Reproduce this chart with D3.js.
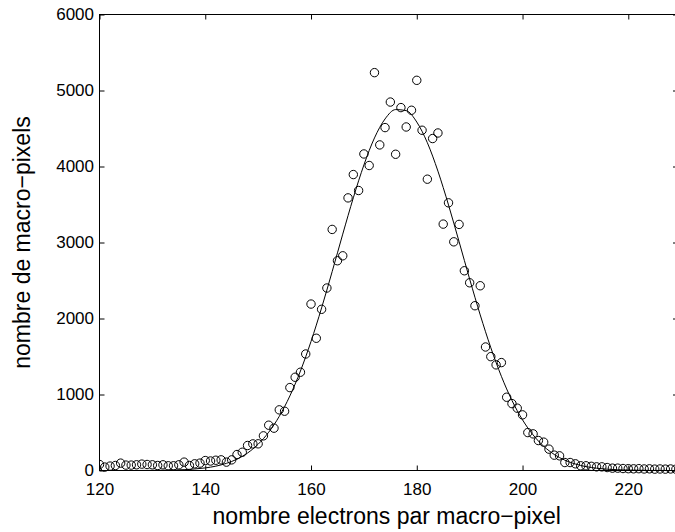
<!DOCTYPE html>
<html>
<head>
<meta charset="utf-8">
<script src="https://cdn.jsdelivr.net/npm/d3@7"></script>
<style>
  body { margin: 0; background: #fff; }
  svg { display: block; }
  text { font-family: "Liberation Sans", Arial, Helvetica, sans-serif; fill: #000; }
</style>
</head>
<body>
<svg id="chart" width="675" height="532"></svg>
<script>
// Measured histogram: number of macro-pixels per electron count
const electrons = [
  120,121,122,123,124,125,126,127,128,129,
  130,131,132,133,134,135,136,137,138,139,
  140,141,142,143,144,145,146,147,148,149,
  150,151,152,153,154,155,156,157,158,159,
  160,161,162,163,164,165,166,167,168,169,
  170,171,172,173,174,175,176,177,178,179,
  180,181,182,183,184,185,186,187,188,189,
  190,191,192,193,194,195,196,197,198,199,
  200,201,202,203,204,205,206,207,208,209,
  210,211,212,213,214,215,216,217,218,219,
  220,221,222,223,224,225,226,227,228,229
];
const counts = [
  79,45,58,66,97,71,71,75,84,79,
  75,66,75,62,62,75,110,66,88,97,
  131,125,135,140,110,140,210,240,329,350,
  351,456,596,557,798,780,1091,1227,1293,1533,
  2190,1740,2121,2401,3172,2760,2825,3587,3894,3684,
  4165,4013,5235,4284,4512,4848,4161,4775,4520,4740,
  5134,4477,3833,4368,4441,3242,3522,3009,3238,2628,
  2470,2168,2431,1625,1498,1390,1420,964,880,820,
  732,499,482,394,373,281,202,193,105,105,
  88,62,62,55,48,48,39,31,31,26,
  24,22,24,20,22,18,20,18,20,17
];

// Fitted curve, sampled every 2 electrons
const fitElectrons = [
  120,122,124,126,128,130,132,134,136,138,
  140,142,144,146,148,150,152,154,156,158,
  160,162,164,166,168,170,172,174,176,178,
  180,182,184,186,188,190,192,194,196,198,
  200,202,204,206,208,210,212,214,216,218,
  220,222,224,226,228,230
];
const fitCounts = [
  0,0,0,0,1,2,3,6,11,20,
  34,57,94,149,230,346,504,713,981,1309,
  1698,2139,2617,3110,3588,4020,4376,4626,4749,4735,
  4585,4313,3939,3494,3011,2519,2047,1616,1239,922,
  666,468,319,211,136,85,51,30,17,10,
  5,3,1,1,0,0
];

const xTicks = [120, 140, 160, 180, 200, 220];
const yTicks = [0, 1000, 2000, 3000, 4000, 5000, 6000];
const xTitle = "nombre electrons par macro\u2212pixel";
const yTitle = "nombre de macro\u2212pixels";

const svg = d3.select("#chart");
const W = 675, H = 532;
const plot = { left: 99.5, right: 678, top: 14.5, bottom: 470.5 };

const x = d3.scaleLinear().domain([120, 229.4]).range([plot.left, plot.right]);
const y = d3.scaleLinear().domain([0, 6000]).range([plot.bottom, plot.top]);

svg.append("rect").attr("width", W).attr("height", H).attr("fill", "#fff");

// clip for marks
svg.append("clipPath").attr("id", "plotClip")
  .append("rect")
  .attr("x", plot.left).attr("y", plot.top - 6)
  .attr("width", plot.right - plot.left).attr("height", plot.bottom - plot.top + 12);

const tickLen = 5;
const fmt = d3.format("d");

// bottom axis (ticks point inward)
const gx = svg.append("g")
  .attr("transform", `translate(0,${plot.bottom})`)
  .call(d3.axisBottom(x).tickValues(xTicks).tickFormat(fmt)
    .tickSizeInner(-tickLen).tickSizeOuter(0).tickPadding(12));
// top axis, ticks only
const gxt = svg.append("g")
  .attr("transform", `translate(0,${plot.top})`)
  .call(d3.axisTop(x).tickValues(xTicks).tickSizeInner(-tickLen).tickSizeOuter(0).tickFormat(""));
// left axis
const gy = svg.append("g")
  .attr("transform", `translate(${plot.left},0)`)
  .call(d3.axisLeft(y).tickValues(yTicks).tickFormat(fmt)
    .tickSizeInner(-tickLen).tickSizeOuter(0).tickPadding(5.5));
// right axis, ticks only
const gyr = svg.append("g")
  .attr("transform", `translate(${plot.right},0)`)
  .call(d3.axisRight(y).tickValues(yTicks).tickSizeInner(-tickLen).tickSizeOuter(0).tickFormat(""));

[gx, gxt, gy, gyr].forEach(g => {
  g.select(".domain").remove();
  g.selectAll(".tick line").attr("stroke", "#000").attr("stroke-width", 1);
  g.selectAll("text").attr("font-size", 17)
    .style("font-family", '"Liberation Sans", Arial, sans-serif').attr("fill", "#000");
});

// frame
svg.append("rect")
  .attr("x", plot.left).attr("y", plot.top)
  .attr("width", plot.right - plot.left).attr("height", plot.bottom - plot.top)
  .attr("fill", "none").attr("stroke", "#000").attr("stroke-width", 1);

// fitted curve
const line = d3.line()
  .x((d, i) => x(fitElectrons[i]))
  .y((d, i) => y(fitCounts[i]))
  .curve(d3.curveMonotoneX);
svg.append("path")
  .datum(fitCounts)
  .attr("clip-path", "url(#plotClip)")
  .attr("d", line)
  .attr("fill", "none")
  .attr("stroke", "#000")
  .attr("stroke-width", 1);

// measured points
svg.append("g")
  .attr("clip-path", "url(#plotClip)")
  .selectAll("circle")
  .data(counts)
  .join("circle")
  .attr("cx", (d, i) => x(electrons[i]))
  .attr("cy", d => y(d))
  .attr("r", 4.2)
  .attr("fill", "none")
  .attr("stroke", "#000")
  .attr("stroke-width", 1);

// axis titles
svg.append("text")
  .attr("x", (plot.left + plot.right) / 2 - 2)
  .attr("y", 524)
  .attr("text-anchor", "middle")
  .attr("font-size", 23)
  .text(xTitle);

svg.append("text")
  .attr("transform", `translate(30,${(plot.top + plot.bottom) / 2}) rotate(-90)`)
  .attr("text-anchor", "middle")
  .attr("font-size", 23)
  .text(yTitle);
</script>
</body>
</html>
